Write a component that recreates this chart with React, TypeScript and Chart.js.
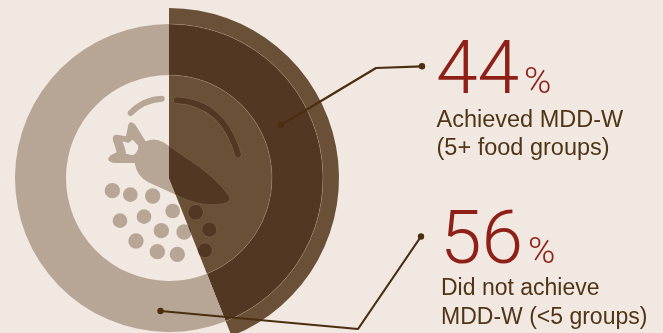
import React, { useEffect, useRef } from "react";
import { Chart, registerables } from "chart.js";

Chart.register(...registerables);

const categories = ["Achieved MDD-W", "Did not achieve MDD-W"];
const shares = [44, 56];
const achievedLines = ["Achieved MDD-W", "(5+ food groups)"];
const missedLines = ["Did not achieve", "MDD-W (<5 groups)"];

const PAGE_BG = "#F2E8E2";
const TAUPE = "#B7A696";
const BROWN = "#6B5038";
const DARK = "#523822";
const LEADER = "#4A2E10";
const RED = "#8F2018";
const TEXT = "#4F3416";
const SEAM = "rgba(214,196,178,0.28)";
const NONE = "rgba(0,0,0,0)";
const LIGHT_FONT = '300 FSIZEpx Roboto, "Liberation Sans", sans-serif';
const BODY_FAMILY = '"Liberation Sans", Arial, sans-serif';

// Food icon, on a grid three times finer than the canvas; origin sits on the pie centre.
const ICON_ORIGIN = [507, 535];
const CARROT =
  "M392 368 Q405 370 412 385 L437 425 Q465 413 490 428 L600 503 Q660 550 688 590 Q695 605 670 612 Q620 622 560 600 L445 548 Q410 530 404 490 L340 490 Q322 485 325 475 Q335 463 350 458 L338 418 Q338 405 350 405 L378 410 L385 375 Q388 368 392 368 Z " +
  "M367 425 L385 430 L398 420 L415 438 Q415 458 398 467 L378 462 L375 445 Z";
const ARCS = ["M392 340 Q430 300 485 297", "M530 302 Q670 310 714 465"];
const SEEDS = [
  [337, 573, 23], [391, 585, 22], [458, 589, 23], [518, 634, 22], [587, 638, 23],
  [628, 690, 22], [360, 663, 22], [432, 651, 22], [484, 693, 23], [552, 697, 23],
  [408, 724, 23], [472, 756, 23], [532, 764, 23], [615, 752, 22],
];

function traceIcon(ctx: CanvasRenderingContext2D, colour: string, outline: string | null) {
  const carrot = new Path2D(CARROT);
  ctx.fillStyle = colour;
  ctx.fill(carrot, "evenodd");
  if (outline) {
    ctx.strokeStyle = outline;
    ctx.lineWidth = 1.5;
    ctx.stroke(carrot);
  }
  for (const d of ARCS) {
    const arc = new Path2D(d);
    ctx.lineCap = "round";
    if (outline) {
      ctx.strokeStyle = outline;
      ctx.lineWidth = 20;
      ctx.stroke(arc);
    }
    ctx.strokeStyle = colour;
    ctx.lineWidth = 18;
    ctx.stroke(arc);
  }
  for (const [x, y, r] of SEEDS) {
    ctx.beginPath();
    ctx.arc(x, y, r, 0, Math.PI * 2);
    ctx.fillStyle = colour;
    ctx.fill();
    if (outline) {
      ctx.strokeStyle = outline;
      ctx.lineWidth = 1.5;
      ctx.stroke();
    }
  }
}

function leader(ctx: CanvasRenderingContext2D, pts: number[][]) {
  ctx.beginPath();
  pts.forEach(([x, y], i) => (i ? ctx.lineTo(x, y) : ctx.moveTo(x, y)));
  ctx.strokeStyle = LEADER;
  ctx.lineWidth = 2.2;
  ctx.lineJoin = "round";
  ctx.stroke();
  for (const [x, y] of [pts[0], pts[pts.length - 1]]) {
    ctx.beginPath();
    ctx.arc(x, y, 3.2, 0, Math.PI * 2);
    ctx.fillStyle = LEADER;
    ctx.fill();
  }
}

function callout(
  ctx: CanvasRenderingContext2D,
  value: number,
  lines: string[],
  x: number,
  base: number,
  pctX: number,
  bodyX: number,
  bodySize: number,
  lineBases: number[],
) {
  ctx.textAlign = "left";
  ctx.textBaseline = "alphabetic";
  ctx.fillStyle = RED;
  ctx.font = LIGHT_FONT.replace("FSIZE", "75");
  ctx.fillText(String(value), x, base);
  ctx.font = LIGHT_FONT.replace("FSIZE", "37");
  ctx.fillText("%", pctX, base);
  ctx.fillStyle = TEXT;
  ctx.font = `${bodySize}px ${BODY_FAMILY}`;
  lines.forEach((t, i) => ctx.fillText(t, bodyX, lineBases[i]));
}

const decorations = {
  id: "decorations",
  afterDatasetsDraw(chart: Chart) {
    const ctx = chart.ctx;
    const outer = chart.getDatasetMeta(0).data[0] as any;
    const mid = chart.getDatasetMeta(1).data[0] as any;
    const cx = outer.x;
    const cy = outer.y;
    const start = outer.startAngle;
    const end = outer.endAngle;

    // Hairlines between the rings of the highlighted slice.
    ctx.save();
    ctx.strokeStyle = SEAM;
    ctx.lineWidth = 0.8;
    for (const r of [outer.innerRadius, mid.innerRadius]) {
      ctx.beginPath();
      ctx.arc(cx, cy, r, start, end);
      ctx.stroke();
    }
    ctx.restore();

    // The icon changes colour where it crosses into the highlighted slice.
    const wedges: [number, number, string, string | null][] = [
      [end, start + Math.PI * 2, TAUPE, null],
      [start, end, DARK, SEAM],
    ];
    for (const [a, b, colour, outline] of wedges) {
      ctx.save();
      ctx.beginPath();
      ctx.moveTo(cx, cy);
      ctx.arc(cx, cy, outer.outerRadius, a, b);
      ctx.closePath();
      ctx.clip();
      ctx.translate(cx, cy);
      ctx.scale(1 / 3, 1 / 3);
      ctx.translate(-ICON_ORIGIN[0], -ICON_ORIGIN[1]);
      traceIcon(ctx, colour, outline);
      ctx.restore();
    }

    // Canvas sits one pixel left of the page, so x values carry that offset.
    ctx.save();
    leader(ctx, [[282, 125], [377, 68], [423, 66.3]]);
    leader(ctx, [[161.5, 311], [359, 329], [422, 236.5]]);
    callout(ctx, shares[0], achievedLines, 437, 93, 525, 437.5, 23.5, [126.5, 155]);
    callout(ctx, shares[1], missedLines, 441, 263, 529, 442, 23, [295, 324]);
    ctx.restore();
  },
};

export default function App() {
  const ref = useRef<HTMLCanvasElement>(null);

  useEffect(() => {
    document.body.style.background = PAGE_BG;
    const chart = new Chart(ref.current!, {
      type: "doughnut",
      data: {
        labels: categories,
        datasets: [
          { data: shares, backgroundColor: [BROWN, NONE], weight: 16, borderWidth: 0 },
          { data: shares, backgroundColor: [DARK, TAUPE], weight: 51, borderWidth: 0 },
          { data: shares, backgroundColor: [BROWN, NONE], weight: 103, borderWidth: 0 },
        ],
      } as any,
      options: {
        responsive: false,
        animation: false,
        cutout: 0,
        events: [],
        layout: { padding: { top: 8, left: 0, right: 324, bottom: 0 } },
        plugins: { legend: { display: false }, tooltip: { enabled: false } },
      },
      plugins: [decorations],
    });
    return () => chart.destroy();
  }, []);

  return (
    <div
      style={{
        position: "fixed",
        left: 0,
        top: 0,
        width: 663,
        height: 333,
        overflow: "hidden",
        background: PAGE_BG,
      }}
    >
      <canvas
        ref={ref}
        width={664}
        height={348}
        style={{ position: "absolute", left: -1, top: 0, width: 664, height: 348 }}
      />
    </div>
  );
}
